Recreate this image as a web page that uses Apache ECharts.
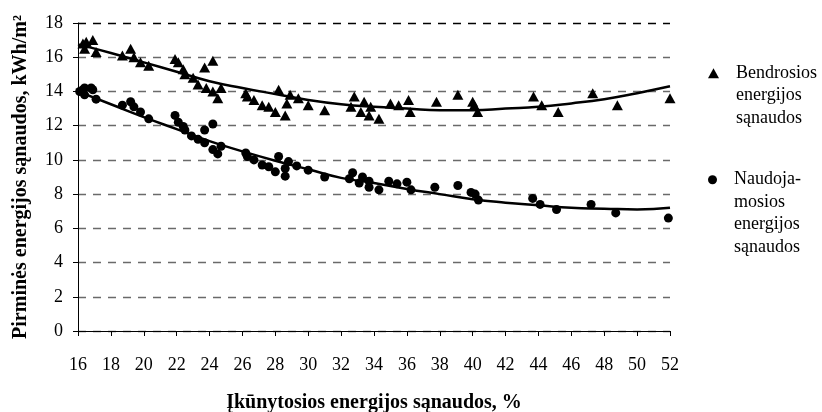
<!DOCTYPE html>
<html>
<head>
<meta charset="utf-8">
<script src="https://cdn.jsdelivr.net/npm/echarts@6/dist/echarts.min.js"></script>
<style>html,body{margin:0;padding:0;background:#fff}#c{width:822px;height:412px}</style>
</head>
<body>
<div id="c"></div>
<script>
// X-axis tick values (%)
const xTicks = [16,18,20,22,24,26,28,30,32,34,36,38,40,42,44,46,48,50,52];
// Y-axis tick values (kWh/m2)
const yTicks = [0,2,4,6,8,10,12,14,16,18];

// Series names
const nameTotal = 'Bendrosios energijos sąnaudos';
const nameUseful = 'Naudojamosios energijos sąnaudos';

// Bendrosios energijos sąnaudos (triangles)
const totalX = [16.3,16.5,16.9,16.4,17.1,18.7,19.2,19.4,19.8,20.3,21.9,22.1,22.4,22.5,23.0,23.3,23.7,24.2,23.8,24.2,24.5,24.7,26.2,26.3,26.7,27.2,27.6,28.0,28.2,28.6,28.7,28.9,29.4,30.0,31.0,32.6,32.8,33.2,33.4,33.7,33.8,34.3,35.0,35.5,36.1,36.2,37.8,39.1,40.0,40.1,40.3,43.7,44.2,45.2,47.3,48.8,52.0];
const totalY = [16.8,16.9,17.0,16.5,16.3,16.1,16.5,16.0,15.7,15.5,15.9,15.7,15.3,15.0,14.8,14.4,15.4,15.8,14.2,14.0,13.6,14.2,13.9,13.7,13.5,13.2,13.1,12.8,14.1,12.6,13.3,13.8,13.6,13.2,12.9,13.1,13.7,12.8,13.4,12.6,13.1,12.4,13.3,13.2,13.5,12.8,13.4,13.8,13.4,13.2,12.8,13.7,13.2,12.8,13.9,13.2,13.6];

// Naudojamosios energijos sąnaudos (circles)
const usefulX = [16.1,16.3,16.4,16.8,16.4,16.9,17.1,18.7,19.2,19.4,19.8,20.3,21.9,22.1,22.4,22.5,22.9,23.3,23.7,24.2,23.7,24.2,24.5,24.7,26.2,26.3,26.7,27.2,27.6,28.0,28.2,28.6,28.6,28.8,29.3,30.0,31.0,32.5,32.7,33.1,33.3,33.7,33.7,34.3,34.9,35.4,36.0,36.25,37.7,39.1,39.9,40.15,40.35,43.65,44.1,45.1,47.2,48.7,51.9];
const usefulY = [14.0,14.1,14.2,14.2,13.8,14.1,13.55,13.2,13.4,13.1,12.8,12.4,12.6,12.2,11.95,11.75,11.4,11.2,11.75,12.1,11.0,10.6,10.35,10.8,10.4,10.2,10.0,9.7,9.6,9.3,10.2,9.05,9.5,9.9,9.65,9.4,9.0,8.9,9.25,8.65,9.0,8.75,8.4,8.25,8.75,8.6,8.7,8.25,8.4,8.5,8.1,8.0,7.65,7.75,7.4,7.1,7.4,6.9,6.6];

// Trend lines
const trendX = [16,18,20,22,24,26,28,30,32,34,36,38,40,42,44,46,48,50,52];
const trendTotal = [16.75,16.25,15.7,15.15,14.6,14.2,13.85,13.5,13.25,13.1,13.0,12.9,12.9,13.0,13.1,13.3,13.55,13.9,14.3];
const trendUseful = [14.0,13.25,12.5,11.8,11.1,10.5,9.95,9.45,8.95,8.65,8.3,8.0,7.7,7.5,7.35,7.2,7.15,7.1,7.2];

const zip = (a, b) => a.map((v, i) => [v, b[i]]);
const FONT = "'Liberation Serif','Times New Roman',serif";
const GRID_GRAY = '#6a6a6a';

const chart = echarts.init(document.getElementById('c'), null, {renderer: 'canvas'});
chart.setOption({
  animation: false,
  backgroundColor: '#fff',
  textStyle: {fontFamily: FONT, color: '#000'},
  grid: {left: 78, right: 152, top: 23, bottom: 81, outerBoundsMode: 'none'},
  xAxis: {
    type: 'value', min: xTicks[0], max: xTicks[xTicks.length - 1], interval: 2,
    name: 'Įkūnytosios energijos sąnaudos, %', nameLocation: 'middle', nameGap: 62,
    nameTextStyle: {fontFamily: FONT, fontSize: 20, fontWeight: 'bold', color: '#000'},
    axisLine: {show: true, onZero: false, lineStyle: {color: '#000', width: 1}},
    axisTick: {show: true, inside: false, length: 5, lineStyle: {color: '#000'}},
    axisLabel: {fontFamily: FONT, fontSize: 18, color: '#000', margin: 25},
    splitLine: {show: false}
  },
  yAxis: {
    type: 'value', min: yTicks[0], max: yTicks[yTicks.length - 1], interval: 2,
    name: 'Pirminės energijos sąnaudos, kWh/m²', nameLocation: 'middle', nameGap: 47,
    nameTextStyle: {fontFamily: FONT, fontSize: 20, fontWeight: 'bold', color: '#000'},
    axisLine: {show: true, lineStyle: {color: '#000', width: 1}},
    axisTick: {show: true, inside: false, length: 5, lineStyle: {color: '#000'}},
    axisLabel: {fontFamily: FONT, fontSize: 18, color: '#000', margin: 15},
    splitLine: {show: true, lineStyle: {
      color: yTicks.map((v, i) => i === yTicks.length - 1 ? '#000' : GRID_GRAY),
      type: [8, 7], width: 1.3}}
  },
  legend: [
    {
      data: [nameTotal], left: 708, top: 17, padding: 0, orient: 'vertical',
      itemWidth: 11, itemHeight: 10,
      formatter: () => '\n\nBendrosios\nenergijos\nsąnaudos',
      textStyle: {fontFamily: FONT, fontSize: 18, lineHeight: 22.5, color: '#000', padding: [0,0,0,12]}
    },
    {
      data: [nameUseful], left: 708, top: 101, padding: 0, orient: 'vertical',
      itemWidth: 9, itemHeight: 9,
      formatter: () => '\n\n\nNaudoja-\nmosios\nenergijos\nsąnaudos',
      textStyle: {fontFamily: FONT, fontSize: 18, lineHeight: 22.5, color: '#000', padding: [0,0,0,12]}
    }
  ],
  series: [
    {
      name: 'trendTotal', type: 'line', data: zip(trendX, trendTotal), smooth: true,
      showSymbol: false, symbol: 'none', lineStyle: {color: '#000', width: 2.5}, z: 2, silent: true
    },
    {
      name: 'trendUseful', type: 'line', data: zip(trendX, trendUseful), smooth: true,
      showSymbol: false, symbol: 'none', lineStyle: {color: '#000', width: 2.5}, z: 2, silent: true
    },
    {
      name: nameTotal, type: 'scatter', data: zip(totalX, totalY), symbol: 'triangle',
      symbolSize: [11, 10], itemStyle: {color: '#000', opacity: 1}, clip: false, z: 3
    },
    {
      name: nameUseful, type: 'scatter', data: zip(usefulX, usefulY), symbol: 'circle',
      symbolSize: 9, itemStyle: {color: '#000', opacity: 1}, clip: false, z: 3
    }
  ]
});
</script>
</body>
</html>
